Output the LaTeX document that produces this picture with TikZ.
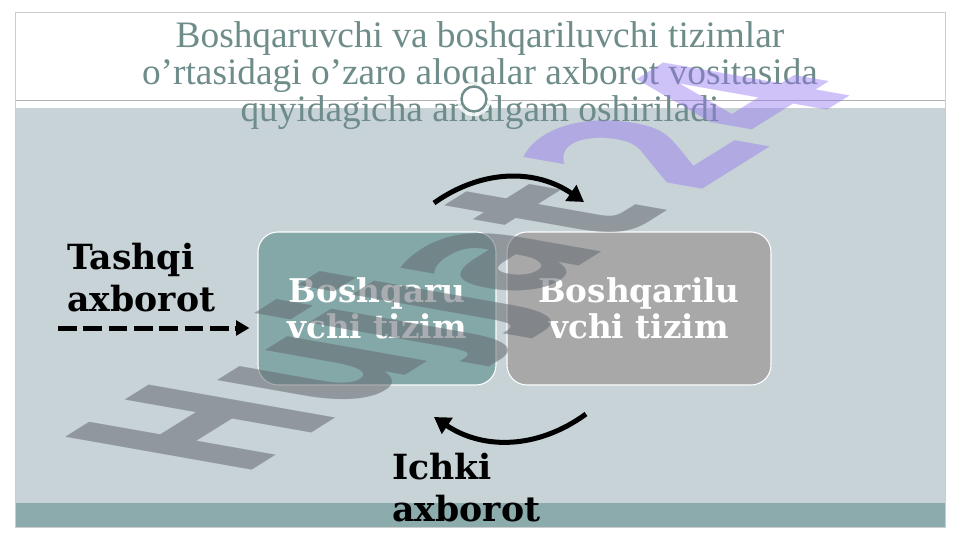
\documentclass[tikz,border=0pt]{standalone}
\usepackage{fontspec}
\setmainfont{DejaVu Serif}
\newfontfamily\titlefont{Liberation Serif}
\newfontfamily\wmfont{DejaVu Sans}
\usetikzlibrary{arrows.meta}

\definecolor{slidebg}{RGB}{199,211,215}
\definecolor{stripteal}{RGB}{139,171,172}
\definecolor{titlegray}{RGB}{110,140,138}
\definecolor{ctrlteal}{RGB}{132,168,168}
\definecolor{objgray}{RGB}{168,168,168}
\definecolor{wmgray}{RGB}{100,105,112}
\definecolor{wmviolet}{RGB}{150,120,240}

\tikzset{
  sysbox/.style={draw=white, line width=0.8pt, rounded corners=15pt, text=white,
    font=\bfseries\fontsize{24.5}{27}\selectfont, align=center, inner sep=0pt},
  lbl/.style={font=\bfseries\fontsize{26}{31.5}\selectfont, align=left,
    anchor=north west, inner sep=0pt},
  flowarrow/.style={->, line width=3.75pt},
  dasharrow/.style={-{Triangle[length=10pt,width=11pt]}, line width=3.75pt,
    dash pattern=on 14pt off 5pt},
}

\newcommand{\slideframe}
{\fill[white] (0,0) rectangle (961,540);
 \fill[slidebg] (15,108) rectangle (945,503);
 \fill[stripteal] (15,503) rectangle (945,527);
 \draw[gray!60, line width=0.5pt] (15,100) -- (945,100);
 \draw[gray!40, line width=0.6pt] (15,12) rectangle (945,527);
}

\begin{document}
\begin{tikzpicture}[x=0.75pt, y=-0.75pt, >={Triangle[length=12pt,width=14pt]}]
  \useasboundingbox (0,0) rectangle (961,540);
  \slideframe

  % title
  \node[font=\titlefont\fontsize{28}{27.75}\selectfont, text=titlegray, align=center] (title) at (480,76)
    {Boshqaruvchi va boshqariluvchi tizimlar\\o’rtasidagi o’zaro aloqalar axborot vositasida\\quyidagicha amalgam oshiriladi};
  \filldraw[fill=white, draw=white, opacity=0.8] (474,99) circle (17);
  \filldraw[fill=white, draw=titlegray, line width=1.8pt] (474,99) circle (12.5);

  % systems
  \node[sysbox, fill=ctrlteal, minimum width=178.5pt, minimum height=114.75pt] (ctrl) at (377,308.5)
    {Boshqaru\\vchi tizim};
  \node[sysbox, fill=objgray, minimum width=198pt, minimum height=114.75pt] (obj) at (639,308.5)
    {Boshqarilu\\vchi tizim};

  % labels
  \node[lbl] (tashqi) at (67,243) {Tashqi\\axborot};
  \node[lbl] (ichki) at (392,453) {Ichki\\axborot};

  \coordinate (ext) at (58,328);
  \draw[dasharrow] (ext) -- ([xshift=-6pt]ctrl.west |- ext);

  \coordinate (upS) at (434,203);
  \coordinate (upE) at (584,202);
  \coordinate (loS) at (586,414);
  \coordinate (loE) at (434,417);
  \draw[flowarrow] (upS) to[bend left=35] (upE);
  \draw[flowarrow] (loS) to[bend left=35] (loE);

  % watermark
  \begin{scope}[cm={0.958,0.599,-1.92,0.339,(240,478)}]
    \node[transform shape, anchor=base west, inner sep=0pt,
      font=\wmfont\bfseries\fontsize{100}{100}\selectfont] (mark) at (0,0)
      {{\pgfsetfillopacity{0.55}\color{wmgray}Hujjat}\kern15pt{\pgfsetfillopacity{0.45}\color{wmviolet}24}};
  \end{scope}
\end{tikzpicture}
\end{document}
